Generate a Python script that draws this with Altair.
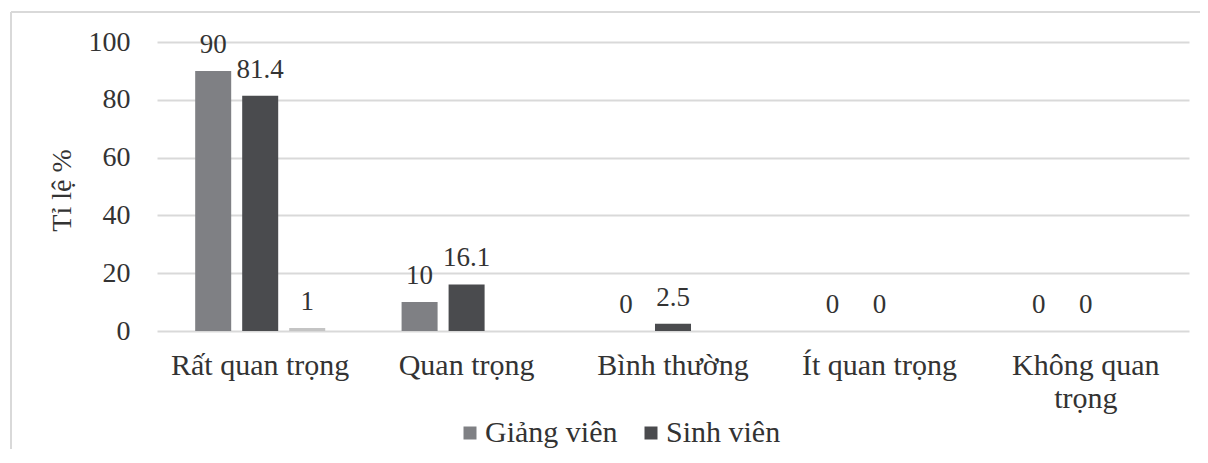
import altair as alt
import pandas as pd

categories = ["Rất quan trọng", "Quan trọng", "Bình thường", "Ít quan trọng", "Không quan trọng"]
series_names = ["Giảng viên", "Sinh viên", "Khác"]
giang_vien = [90, 10, 0, 0, 0]
sinh_vien = [81.4, 16.1, 2.5, 0, 0]
khac = [1, None, None, None, None]
y_ticks = [0, 20, 40, 60, 80, 100]
colors = ["#7f8084", "#4a4b4e", "#c4c4c4"]

rows = []
for ci, cat in enumerate(categories):
    for name, vals in zip(series_names, [giang_vien, sinh_vien, khac]):
        v = vals[ci]
        if v is None:
            continue
        rows.append({"cat": cat, "series": name, "value": v, "label": f"{v:g}"})
df = pd.DataFrame(rows)

FONT = "Liberation Serif"
TXT = "#333333"

x_enc = alt.X("cat:N", sort=categories, title=None,
              scale=alt.Scale(paddingInner=0.37, paddingOuter=0.185),
              axis=alt.Axis(labelAngle=0, labelFontSize=30, labelFont=FONT, labelColor=TXT,
                            labelPadding=19, ticks=False, domain=False, grid=False,
                            labelLineHeight=33,
                            labelExpr="datum.label == 'Không quan trọng' ? ['Không quan', 'trọng'] : datum.label"))
xoff = alt.XOffset("series:N", sort=series_names,
                   scale=alt.Scale(paddingInner=0.234, paddingOuter=0))
y_enc = alt.Y("value:Q", scale=alt.Scale(domain=[0, 100]),
              axis=alt.Axis(values=y_ticks, title="Tỉ lệ %", titleFont=FONT, titleFontSize=28,
                            titleFontWeight="normal", titleColor=TXT, titleX=-95, titleY=148,
                            titleBaseline="middle", titleAngle=-90,
                            labelFont=FONT, labelFontSize=28, labelColor=TXT, labelPadding=27,
                            ticks=False, domain=False, grid=True, gridColor="#d9d9d9",
                            gridWidth=2))

base = alt.Chart(df)
bars = base.mark_bar().encode(
    x=x_enc, xOffset=xoff, y=y_enc,
    color=alt.Color("series:N", sort=series_names,
                    scale=alt.Scale(domain=series_names, range=colors),
                    legend=alt.Legend(values=["Giảng viên", "Sinh viên"], title=None,
                                      orient="none", direction="horizontal",
                                      legendX=298, legendY=376,
                                      symbolType="square", symbolSize=169,
                                      symbolStrokeWidth=0, labelFont=FONT, labelFontSize=30,
                                      labelColor=TXT, labelOffset=0, columnPadding=18,
                                      padding=0)),
)
texts = base.mark_text(font=FONT, fontSize=27, color=TXT, baseline="alphabetic", dy=-18).encode(
    x=alt.X("cat:N", sort=categories), xOffset=alt.XOffset("series:N", sort=series_names),
    y="value:Q", text="label:N",
)

frame_df = pd.DataFrame({"k": [0]})
frame_left = alt.Chart(frame_df).mark_rule(color="#d9d9d9", strokeWidth=2).encode(
    x=alt.value(-146), y=alt.value(-30), y2=alt.value(600))
frame_top = alt.Chart(frame_df).mark_rule(color="#d9d9d9", strokeWidth=2).encode(
    x=alt.value(-146), x2=alt.value(1200), y=alt.value(-30))

chart = alt.layer(frame_left, frame_top, bars, texts).properties(
    width=1032, height=289,
    autosize=alt.AutoSizeParams(type="none"),
    padding={"left": 149, "top": 34, "right": 11, "bottom": 118},
).configure_view(stroke=None)

chart.save("out.html", embed_options={"renderer": "svg", "actions": False})
